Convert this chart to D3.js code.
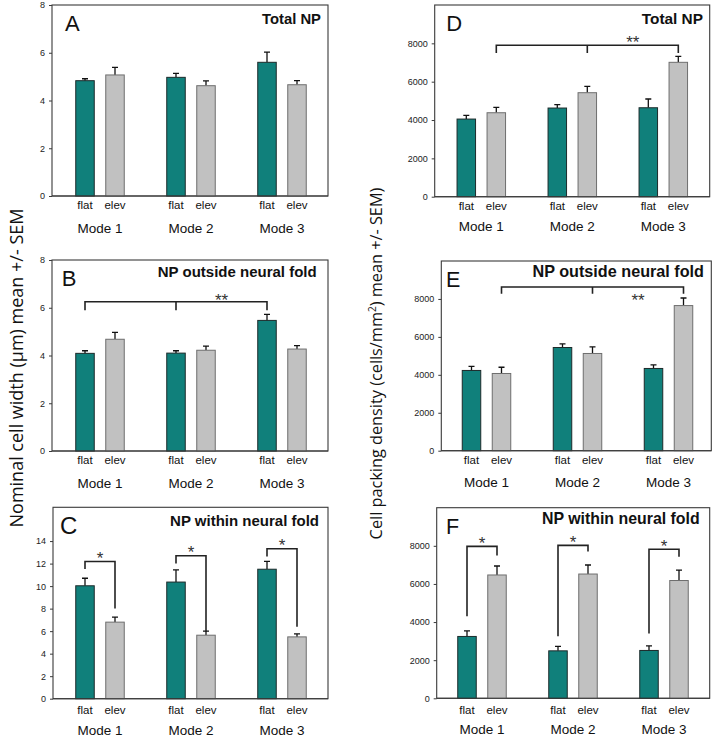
<!DOCTYPE html>
<html>
<head>
<meta charset="utf-8">
<script src="https://cdn.jsdelivr.net/npm/d3@7"></script>
<style>
  html, body { margin: 0; padding: 0; background: #fff; }
  svg { display: block; }
</style>
</head>
<body>
<svg id="chart" width="716" height="738"></svg>
<script>
// ---------------- DATA ----------------
const modes = ["Mode 1", "Mode 2", "Mode 3"];
const conditions = ["flat", "elev"];

// Panel A: nominal cell width, total NP (µm)
const aFlat = [4.83, 4.97, 5.60];
const aFlatSem = [0.08, 0.17, 0.43];
const aElev = [5.07, 4.62, 4.66];
const aElevSem = [0.32, 0.20, 0.17];

// Panel B: nominal cell width, NP outside neural fold
const bFlat = [4.09, 4.10, 5.47];
const bFlatSem = [0.11, 0.10, 0.25];
const bElev = [4.68, 4.22, 4.27];
const bElevSem = [0.29, 0.17, 0.14];

// Panel C: nominal cell width, NP within neural fold
const cFlat = [10.03, 10.36, 11.50];
const cFlatSem = [0.67, 1.09, 0.69];
const cElev = [6.80, 5.64, 5.49];
const cElevSem = [0.44, 0.36, 0.27];

// Panel D: cell packing density, total NP (cells/mm²)
const dFlat = [4050, 4625, 4640];
const dFlatSem = [190, 175, 457];
const dElev = [4380, 5425, 7010];
const dElevSem = [280, 330, 315];

// Panel E: cell packing density, NP outside neural fold
const eFlat = [4230, 5440, 4335];
const eFlatSem = [210, 190, 190];
const eElev = [4070, 5125, 7650];
const eElevSem = [330, 350, 400];

// Panel F: cell packing density, NP within neural fold
const fFlat = [3245, 2490, 2510];
const fFlatSem = [295, 230, 245];
const fElev = [6470, 6520, 6180];
const fElevSem = [470, 475, 550];

// tick labels
const widthTicks = [0, 2, 4, 6, 8];
const widthTicksC = [0, 2, 4, 6, 8, 10, 12, 14];
const densityTicks = [0, 2000, 4000, 6000, 8000];

// panel titles & letters
const panelLetters = ["A", "B", "C", "D", "E", "F"];
const panelTitles = ["Total NP", "NP outside neural fold", "NP within neural fold",
                     "Total NP", "NP outside neural fold", "NP within neural fold"];

// significance annotations
// group bracket: [level, dropTo, starValue]  (spans mode1..mode3 of given condition)
const bGroupBracket = [6.25, 5.9, 6.46];
const dGroupBracket = [7900, 7500, 8237];
const eGroupBracket = [8630, 8280, 8120];
// pairwise brackets per mode: [flat-end, top, elev-end]
const cPairBrackets = [[11.51, 12.19, 8.01], [12.01, 12.70, 5.95], [12.63, 13.32, 6.40]];
const fPairBrackets = [[4310, 7970, 7490], [3260, 8025, 7700], [3400, 7820, 7430]];

// ---------------- LAYOUT ----------------
const svg = d3.select("#chart");
svg.append("rect").attr("width", 716).attr("height", 738).attr("fill", "#fff");

const TEAL = "#10807b";
const GRAY = "#c1c1c1";
const FONT = "'Liberation Sans', Arial, sans-serif";

const layouts = [
  { left: 52, right: 328, top: 5, bottom: 196, c1: 100, lx: 65, ly: 30.7, lfs: 22, tx: 321, ty: 24, tfs: 14.8, fo: 13.3, mo: 36.5 },
  { left: 52, right: 328, top: 260, bottom: 451, c1: 100, lx: 61.7, ly: 286, lfs: 22, tx: 316.7, ty: 276.7, tfs: 15, fo: 13.3, mo: 36.5 },
  { left: 53, right: 328, top: 507.3, bottom: 698.7, c1: 100, lx: 60, ly: 534.3, lfs: 24, tx: 319, ty: 526, tfs: 15, fo: 15.5, mo: 35.8 },
  { left: 434.7, right: 709.7, top: 5, bottom: 196.7, c1: 481.3, lx: 446.3, ly: 30.7, lfs: 22, tx: 703, ty: 24, tfs: 15.4, fo: 12.8, mo: 34.5 },
  { left: 441.3, right: 711.3, top: 261, bottom: 450.7, c1: 486.5, lx: 446, ly: 286.7, lfs: 21.5, tx: 704, ty: 277.3, tfs: 16.2, fo: 13.6, mo: 36 },
  { left: 436.7, right: 709.7, top: 507.7, bottom: 698.3, c1: 482, lx: 446, ly: 534, lfs: 21.5, tx: 699.7, ty: 524, tfs: 15.9, fo: 15.5, mo: 36 }
];

const panels = [
  { flat: aFlat, flatSem: aFlatSem, elev: aElev, elevSem: aElevSem, max: 8, ticks: widthTicks },
  { flat: bFlat, flatSem: bFlatSem, elev: bElev, elevSem: bElevSem, max: 8, ticks: widthTicks,
    group: { cond: "flat", vals: bGroupBracket } },
  { flat: cFlat, flatSem: cFlatSem, elev: cElev, elevSem: cElevSem, max: 17, ticks: widthTicksC,
    pairs: cPairBrackets },
  { flat: dFlat, flatSem: dFlatSem, elev: dElev, elevSem: dElevSem, max: 10000, ticks: densityTicks,
    group: { cond: "elev", vals: dGroupBracket } },
  { flat: eFlat, flatSem: eFlatSem, elev: eElev, elevSem: eElevSem, max: 10000, ticks: densityTicks,
    group: { cond: "elev", vals: eGroupBracket } },
  { flat: fFlat, flatSem: fFlatSem, elev: fElev, elevSem: fElevSem, max: 10000, ticks: densityTicks,
    pairs: fPairBrackets }
];

const STEP = 91, BARW = 18.5;

function star(g, x, yCenter, n) {
  const fs = 17;
  g.append("text")
    .attr("x", x).attr("y", yCenter + fs * 0.57)
    .attr("text-anchor", "middle")
    .attr("font-family", FONT).attr("font-size", fs)
    .attr("fill", "#333")
    .text("*".repeat(n));
}

panels.forEach((p, i) => {
  const L = layouts[i];
  const g = svg.append("g");

  const y = d3.scaleLinear().domain([0, p.max]).range([L.bottom, L.top]);
  const x = d3.scaleBand().domain(modes).range([L.c1 - STEP / 2, L.c1 - STEP / 2 + STEP * 3]);
  const xc = d3.scalePoint().domain(conditions).range([-15, 15]);
  const cx = (m, c) => x(m) + x.bandwidth() / 2 + xc(c);

  // frame
  g.append("rect")
    .attr("x", L.left).attr("y", L.top)
    .attr("width", L.right - L.left).attr("height", L.bottom - L.top)
    .attr("fill", "none").attr("stroke", "#3a3a3a").attr("stroke-width", 1.1);

  // y axis
  const ax = g.append("g").attr("transform", `translate(${L.left},0)`)
    .call(d3.axisLeft(y).tickValues(p.ticks).tickSize(3).tickPadding(4).tickFormat(d3.format("d")));
  ax.select(".domain").remove();
  ax.selectAll("line").attr("stroke", "#3a3a3a");
  ax.selectAll("text").attr("font-family", FONT).attr("font-size", 9).attr("fill", "#222");

  const rows = [];
  modes.forEach((m, mi) => {
    rows.push({ m, c: "flat", v: p.flat[mi], s: p.flatSem[mi] });
    rows.push({ m, c: "elev", v: p.elev[mi], s: p.elevSem[mi] });
  });

  // error bars
  g.selectAll(".err").data(rows).enter().append("path")
    .attr("d", d => {
      const xx = cx(d.m, d.c), y0 = y(d.v), y1 = y(d.v + d.s);
      return `M${xx},${y0}V${y1}M${xx - 3},${y1}H${xx + 3}`;
    })
    .attr("stroke", "#111").attr("stroke-width", 1.3).attr("fill", "none");

  // bars
  g.selectAll(".bar").data(rows).enter().append("rect")
    .attr("x", d => cx(d.m, d.c) - BARW / 2)
    .attr("y", d => y(d.v))
    .attr("width", BARW)
    .attr("height", d => y(0) - y(d.v))
    .attr("fill", d => d.c === "flat" ? TEAL : GRAY)
    .attr("stroke", d => d.c === "flat" ? "#1c2a2a" : "#6e6e6e")
    .attr("stroke-width", 1);

  g.append("line").attr("x1", L.left).attr("x2", L.right)
    .attr("y1", L.bottom).attr("y2", L.bottom)
    .attr("stroke", "#3a3a3a").attr("stroke-width", 1.1);

  // condition labels
  g.selectAll(".cl").data(rows).enter().append("text")
    .attr("x", d => cx(d.m, d.c))
    .attr("y", L.bottom + L.fo)
    .attr("text-anchor", "middle")
    .attr("font-family", FONT).attr("font-size", 11.5).attr("fill", "#111")
    .text(d => d.c);

  // mode labels
  g.selectAll(".ml").data(modes).enter().append("text")
    .attr("x", d => x(d) + x.bandwidth() / 2)
    .attr("y", L.bottom + L.mo)
    .attr("text-anchor", "middle")
    .attr("font-family", FONT).attr("font-size", 13.5).attr("fill", "#111")
    .text(d => d);

  // letter
  g.append("text").attr("x", L.lx).attr("y", L.ly)
    .attr("font-family", FONT).attr("font-size", L.lfs).attr("fill", "#111")
    .text(panelLetters[i]);

  // title
  g.append("text").attr("x", L.tx).attr("y", L.ty)
    .attr("text-anchor", "end")
    .attr("font-family", FONT).attr("font-size", L.tfs).attr("font-weight", "bold").attr("fill", "#111")
    .text(panelTitles[i]);

  const bstroke = "#222", bw = 1.6;

  if (p.group) {
    const [lvl, drop, sv] = p.group.vals;
    const xs = modes.map(m => cx(m, p.group.cond));
    const path = `M${xs[0]},${y(drop)}V${y(lvl)}H${xs[2]}V${y(drop)}M${xs[1]},${y(lvl)}V${y(drop)}`;
    g.append("path").attr("d", path).attr("fill", "none").attr("stroke", bstroke).attr("stroke-width", bw);
    star(g, (xs[1] + xs[2]) / 2, y(sv), 2);
  }

  if (p.pairs) {
    p.pairs.forEach((b, mi) => {
      const m = modes[mi];
      const x1 = cx(m, "flat"), x2 = cx(m, "elev");
      const path = `M${x1},${y(b[0])}V${y(b[1])}H${x2}V${y(b[2])}`;
      g.append("path").attr("d", path).attr("fill", "none").attr("stroke", bstroke).attr("stroke-width", bw);
      star(g, (x1 + x2) / 2, y(b[1]) - 7, 1);
    });
  }
});

// y-axis titles
const YFONT = "'Open Sans', 'Noto Sans', sans-serif";
svg.append("text")
  .attr("transform", "translate(22.5,368) rotate(-90)")
  .attr("text-anchor", "middle")
  .attr("font-family", YFONT).attr("font-size", 18).attr("fill", "#111")
  .text("Nominal cell width (µm) mean +/- SEM");

const rt = svg.append("text")
  .attr("transform", "translate(382,363.5) rotate(-90)")
  .attr("text-anchor", "middle")
  .attr("font-family", YFONT).attr("font-size", 16.3).attr("fill", "#111");
rt.append("tspan").text("Cell packing density (cells/mm");
rt.append("tspan").attr("font-size", 10).attr("dy", -6).text("2");
rt.append("tspan").attr("dy", 6).text(") mean +/- SEM)");
</script>
</body>
</html>
